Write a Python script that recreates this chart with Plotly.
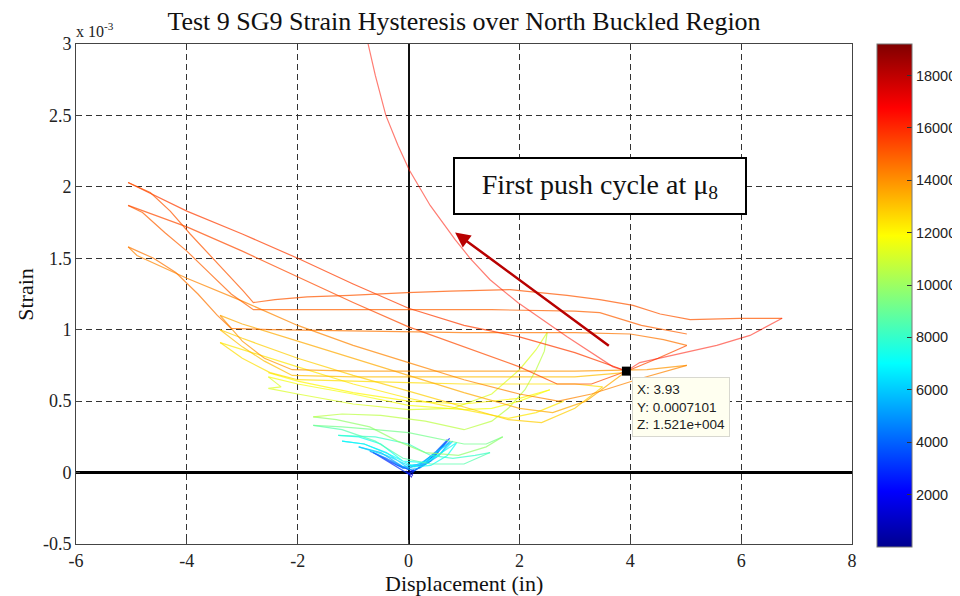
import plotly.graph_objects as go
from plotly.colors import sample_colorscale

# ---------------- data (strain in units of 1e-3) ----------------
title_text = "Test 9 SG9 Strain Hysteresis over North Buckled Region"
x_ticks = [-6, -4, -2, 0, 2, 4, 6, 8]
x_tick_text = ["-6", "-4", "-2", "0", "2", "4", "6", "8"]
y_ticks = [-0.5, 0, 0.5, 1, 1.5, 2, 2.5, 3]
y_tick_text = ["-0.5", "0", "0.5", "1", "1.5", "2", "2.5", "3"]
cbar_ticks = [2000, 4000, 6000, 8000, 10000, 12000, 14000, 16000, 18000]
cbar_text = ["2000", "4000", "6000", "8000", "10000", "12000", "14000", "16000", "18000"]
z_min, z_max = 0, 19200

push8_x = [-0.78, -0.73, -0.60, -0.41, -0.19, 0.01, 0.39, 0.84, 1.11, 1.47, 1.97, 2.86, 3.69, 3.93, 4.17, 4.95, 5.56, 6.16, 6.61, 6.74]
push8_y = [3.10, 3.00, 2.78, 2.50, 2.29, 2.12, 1.87, 1.63, 1.50, 1.35, 1.19, 0.95, 0.74, 0.71, 0.77, 0.84, 0.89, 0.96, 1.05, 1.08]
return8_x = [6.74, 5.98, 5.08, 4.54, 4.05, 3.45, 2.86, 1.83, 0.75, -0.03, -1.06, -1.83, -2.41, -2.80, -2.98, -3.22, -3.58, -3.94, -4.30, -4.66, -5.06]
return8_y = [1.08, 1.08, 1.07, 1.11, 1.17, 1.21, 1.24, 1.28, 1.27, 1.26, 1.24, 1.23, 1.21, 1.19, 1.27, 1.37, 1.52, 1.67, 1.83, 1.96, 2.03]
pullA_x = [-5.06, -4.0, -3.0, -2.0, -1.0, 0.0, 1.0, 2.0, 3.0, 3.87]
pullA_y = [2.03, 1.83, 1.67, 1.50, 1.32, 1.15, 1.03, 0.95, 0.84, 0.72]
pullC_x = [-5.06, -4.0, -3.0, -2.0, -1.0, 0.0, 1.0, 2.0, 2.68, 3.3, 4.0, 4.5, 5.02]
pullC_y = [1.87, 1.72, 1.55, 1.37, 1.19, 1.02, 0.88, 0.74, 0.62, 0.62, 0.72, 0.80, 0.89]
flat114_x = [-5.06, -4.8, -4.4, -4.0, -3.6, -3.2, -2.8, -1.5, 0.0, 1.5, 3.0, 3.45, 4.2, 5.02]
flat114_y = [1.87, 1.82, 1.68, 1.55, 1.40, 1.25, 1.14, 1.14, 1.14, 1.14, 1.13, 1.12, 1.03, 0.97]
flat098_x = [5.02, 4.6, 4.0, 3.0, 1.0, -1.0, -2.5, -3.2, -3.45, -3.8, -4.2, -4.6, -5.06]
flat098_y = [0.89, 0.93, 0.97, 0.98, 0.98, 0.99, 1.00, 1.01, 1.10, 1.25, 1.40, 1.50, 1.58]
pullG_x = [-5.06, -4.9, -4.0, -3.0, -2.0, -1.0, 0.0, 1.0, 2.0, 2.7, 3.3, 4.2, 5.02]
pullG_y = [1.58, 1.52, 1.36, 1.20, 1.03, 0.89, 0.77, 0.65, 0.55, 0.50, 0.55, 0.66, 0.75]
flat072_x = [5.02, 4.3, 3.0, 1.0, -1.0, -2.1, -2.6, -3.0, -3.4]
flat072_y = [0.75, 0.72, 0.71, 0.71, 0.71, 0.72, 0.80, 0.92, 1.10]
l35a_x = [-3.4, -3.0, -2.0, -1.0, 0.0, 1.0, 2.0, 2.6, 3.2, 3.9]
l35a_y = [1.10, 1.04, 0.92, 0.80, 0.68, 0.56, 0.45, 0.42, 0.50, 0.70]
l35b_x = [3.9, 3.0, 2.0, 1.0, 0.0, -1.0, -2.1, -2.6, -3.0, -3.4]
l35b_y = [0.70, 0.67, 0.67, 0.67, 0.67, 0.67, 0.68, 0.78, 0.88, 1.00]
l35c_x = [-3.4, -3.0, -2.0, -1.0, 0.0, 1.0, 1.8, 2.4, 3.0, 3.5]
l35c_y = [1.00, 0.94, 0.80, 0.68, 0.57, 0.46, 0.37, 0.35, 0.45, 0.60]
l35d_x = [3.5, 3.0, 2.0, 1.0, 0.0, -1.0, -2.0, -2.5, -3.0, -3.4]
l35d_y = [0.60, 0.62, 0.62, 0.62, 0.63, 0.64, 0.65, 0.70, 0.80, 0.91]
l35e_x = [-3.4, -3.0, -2.5, -2.0, -1.0, 0.0, 1.0, 1.8, 2.3, 2.8]
l35e_y = [0.91, 0.86, 0.80, 0.74, 0.62, 0.52, 0.44, 0.38, 0.42, 0.50]
l25a_x = [-2.53, -2.0, -1.0, 0.0, 1.0, 2.0, 2.55]
l25a_y = [0.70, 0.64, 0.56, 0.50, 0.48, 0.52, 0.58]
l25b_x = [2.55, 2.0, 1.5, 1.0, 0.0, -1.0, -2.0, -2.53]
l25b_y = [0.58, 0.50, 0.45, 0.44, 0.47, 0.55, 0.62, 0.67]
l25c_x = [-2.53, -2.3, -2.53, -2.0, -1.0, 0.0, 0.8, 1.5, 2.0, 2.3, 2.5]
l25c_y = [0.67, 0.60, 0.59, 0.55, 0.48, 0.44, 0.45, 0.55, 0.72, 0.86, 0.98]
l25d_x = [2.5, 2.45, 2.3, 2.1, 1.8, 1.5, 1.0, 0.3, -0.5, -1.2, -1.72]
l25d_y = [0.98, 0.85, 0.72, 0.58, 0.45, 0.36, 0.30, 0.36, 0.40, 0.41, 0.39]
l17a_x = [-1.72, -1.3, -0.7, -0.2, 0.3, 0.9, 1.4, 1.7]
l17a_y = [0.39, 0.37, 0.32, 0.22, 0.14, 0.12, 0.18, 0.25]
l17b_x = [1.7, 1.4, 1.0, 0.5, 0.0, -0.6, -1.2, -1.72]
l17b_y = [0.25, 0.20, 0.20, 0.24, 0.28, 0.30, 0.32, 0.33]
l17c_x = [-1.72, -1.2, -0.6, -0.1, 0.4, 1.0, 1.47]
l17c_y = [0.33, 0.30, 0.22, 0.10, 0.06, 0.06, 0.14]
l17d_x = [1.47, 1.2, 0.8, 0.4, 0.0, -0.6, -1.27]
l17d_y = [0.14, 0.12, 0.10, 0.12, 0.20, 0.25, 0.26]
l12a_x = [-1.27, -0.9, -0.5, -0.1, 0.3, 0.6, 0.87, 0.7, 0.4, 0.1, -0.3, -0.8, -1.2]
l12a_y = [0.26, 0.25, 0.20, 0.08, 0.07, 0.14, 0.21, 0.12, 0.05, 0.04, 0.12, 0.20, 0.22]
l12b_x = [-1.2, -0.8, -0.4, 0.0, 0.3, 0.6, 0.8, 0.6, 0.3, 0.0, -0.4, -0.9]
l12b_y = [0.22, 0.20, 0.14, 0.03, 0.08, 0.17, 0.22, 0.14, 0.06, 0.05, 0.12, 0.18]
l12c_x = [-0.9, -0.5, -0.1, 0.2, 0.5, 0.75, 0.55, 0.2, 0.0]
l12c_y = [0.18, 0.14, 0.04, 0.06, 0.14, 0.22, 0.12, 0.03, 0.02]
l07a_x = [0.0, -0.3, -0.7, -0.4, -0.1, 0.2, 0.5, 0.7, 0.5, 0.1]
l07a_y = [0.02, 0.08, 0.15, 0.10, 0.03, 0.05, 0.15, 0.23, 0.13, 0.01]
l07b_x = [0.1, -0.2, -0.64, -0.3, 0.0, 0.3, 0.74, 0.4, 0.05]
l07b_y = [0.01, 0.05, 0.14, 0.06, -0.01, 0.06, 0.24, 0.08, 0.00]
l07c_x = [0.0, 0.1, 0.05, -0.05, 0.08]
l07c_y = [0.00, 0.02, -0.03, 0.01, -0.02]

strokes = [
    (l07c_x, l07c_y, 1500), (l07b_x, l07b_y, 3000), (l07a_x, l07a_y, 4300),
    (l12c_x, l12c_y, 5400), (l12b_x, l12b_y, 6400), (l12a_x, l12a_y, 7200),
    (l17d_x, l17d_y, 8000), (l17c_x, l17c_y, 8600), (l17b_x, l17b_y, 9200), (l17a_x, l17a_y, 9800),
    (l25d_x, l25d_y, 10600), (l25c_x, l25c_y, 11200), (l25b_x, l25b_y, 11700), (l25a_x, l25a_y, 12000),
    (l35e_x, l35e_y, 12300), (l35d_x, l35d_y, 12500), (l35c_x, l35c_y, 12800), (l35b_x, l35b_y, 13100), (l35a_x, l35a_y, 13500),
    (flat072_x, flat072_y, 13900), (pullG_x, pullG_y, 14200), (flat098_x, flat098_y, 14500),
    (flat114_x, flat114_y, 14900), (pullC_x, pullC_y, 15300), (pullA_x, pullA_y, 15600),
    (return8_x, return8_y, 15100), (push8_x, push8_y, 16400),
]
stroke_opacity = {16400: 0.55}

tip_x, tip_y = [3.93], [0.7101]

# MATLAB jet
jet = [[0.0, "rgb(0,0,143)"], [0.111, "rgb(0,0,255)"], [0.365, "rgb(0,255,255)"],
       [0.619, "rgb(255,255,0)"], [0.873, "rgb(255,0,0)"], [1.0, "rgb(128,0,0)"]]

fig = go.Figure()
for xs, ys, z in strokes:
    col = sample_colorscale(jet, [(z - z_min) / (z_max - z_min)])[0]
    fig.add_trace(go.Scatter(x=xs, y=ys, mode="lines", line=dict(color=col, width=1.2),
                             opacity=stroke_opacity.get(z, 0.72), hoverinfo="skip", showlegend=False))

# data tip marker
fig.add_trace(go.Scatter(x=tip_x, y=tip_y, mode="markers",
                         marker=dict(symbol="square", size=9, color="black"),
                         showlegend=False, hoverinfo="skip"))

# colorbar carrier
fig.add_trace(go.Scatter(x=[None], y=[None], mode="markers", showlegend=False,
                         marker=dict(colorscale=jet, cmin=z_min, cmax=z_max, color=[z_min],
                                     showscale=True,
                                     colorbar=dict(x=1.032, xanchor="left", xpad=0,
                                                   y=-0.006, yanchor="bottom", len=1.006, lenmode="fraction",
                                                   ypad=0, thickness=35, thicknessmode="pixels",
                                                   outlinewidth=1, outlinecolor="#777",
                                                   tickvals=cbar_ticks, ticktext=cbar_text,
                                                   ticks="inside", ticklen=5, tickcolor="#333",
                                                   tickfont=dict(family="Liberation Sans", size=14.5, color="#222")))))

serif = "Liberation Serif"
# the page adds an 8px body margin, so the figure is placed with that offset in mind
fig.update_layout(
    width=960, height=596,
    margin=dict(l=68, r=116, t=36, b=60, autoexpand=False),
    paper_bgcolor="white", plot_bgcolor="white",
    title=dict(text=title_text, x=0.5, xref="paper", xanchor="center", y=0.979, yanchor="middle",
               font=dict(family=serif, size=26, color="#111")),
    xaxis=dict(range=[-6, 8], tickvals=x_ticks, ticktext=x_tick_text, showgrid=True, gridcolor="#333",
               griddash="6px,4px", gridwidth=1, zeroline=True, zerolinecolor="#111", zerolinewidth=1.5,
               showline=True, linecolor="#444", linewidth=1, mirror=True,
               ticks="inside", ticklen=4, tickcolor="#444", automargin=False,
               tickfont=dict(family=serif, size=18, color="#222")),
    yaxis=dict(range=[-0.5, 3], tickvals=y_ticks, ticktext=y_tick_text, showgrid=True,
               gridcolor="#333", griddash="6px,4px", gridwidth=1,
               zeroline=True, zerolinecolor="#000", zerolinewidth=2.5,
               showline=True, linecolor="#444", linewidth=1, mirror=True,
               ticks="inside", ticklen=4, tickcolor="#444", automargin=False,
               tickfont=dict(family=serif, size=18, color="#222")),
)

fig.add_annotation(text="Displacement (in)", xref="paper", yref="paper", x=0.5, y=-0.079,
                   xanchor="center", yanchor="middle", showarrow=False,
                   font=dict(family=serif, size=22, color="#111"))
fig.add_annotation(text="Strain", xref="paper", yref="paper", x=-0.066, y=0.5, textangle=-90,
                   xanchor="center", yanchor="middle", showarrow=False,
                   font=dict(family=serif, size=22, color="#111"))
fig.add_annotation(text="x 10<sup>-3</sup>", xref="paper", yref="paper", x=-0.002, y=1.004,
                   xanchor="left", yanchor="bottom", showarrow=False,
                   font=dict(family=serif, size=16, color="#222"))

# callout box
fig.add_annotation(text="First push cycle at \u03bc<sub>8</sub>", x=3.45, y=2.006, xref="x", yref="y",
                   showarrow=False, width=290, height=54, bgcolor="white", bordercolor="black",
                   borderwidth=2, borderpad=0, font=dict(family=serif, size=28, color="#111"))
# arrow
fig.add_annotation(x=0.84, y=1.68, ax=3.64, ay=0.88, xref="x", yref="y", axref="x", ayref="y",
                   text="", showarrow=True, arrowhead=2, arrowsize=1.2, arrowwidth=2.5,
                   arrowcolor="#b80000")
# data tip box
fig.add_annotation(text="X: 3.93<br>Y: 0.0007101<br>Z: 1.521e+004", x=4.03, y=0.669,
                   xref="x", yref="y", xanchor="left", yanchor="top", align="left",
                   showarrow=False, bgcolor="#fffff0", bordercolor="#d8d8d0", borderwidth=1,
                   borderpad=4, font=dict(family="Liberation Sans", size=13.5, color="#222"))

fig.write_html("out.html")
